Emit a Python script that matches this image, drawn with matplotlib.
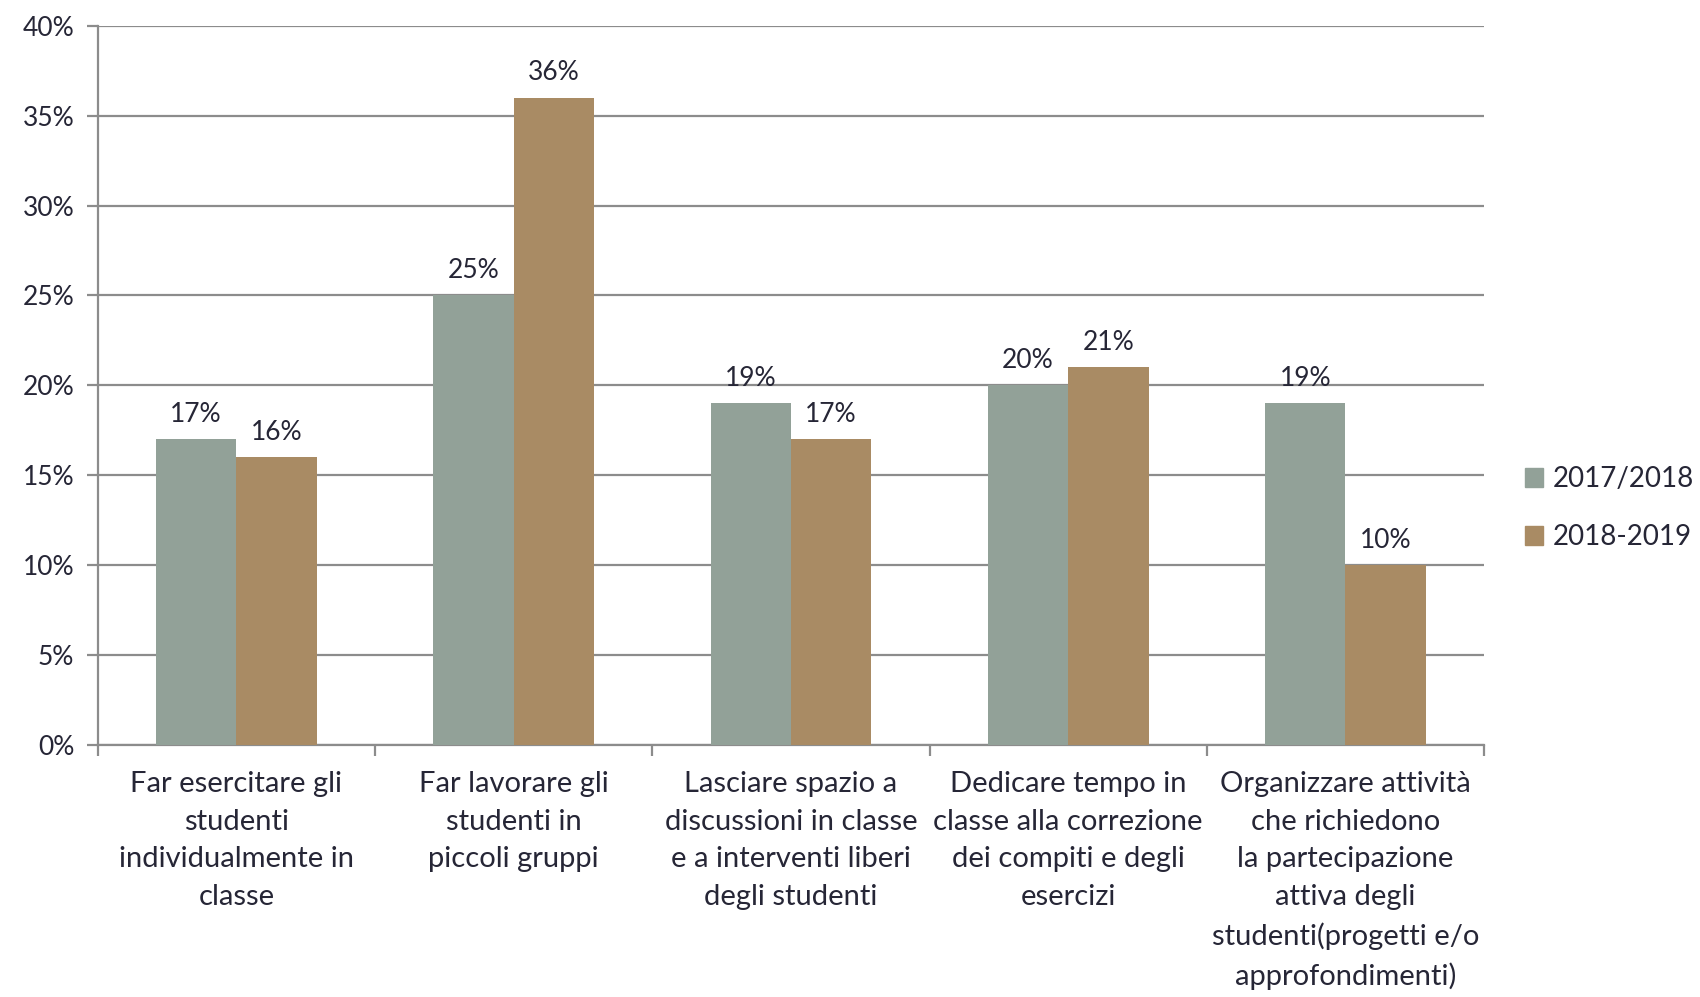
import numpy as np
import matplotlib.pyplot as plt
from matplotlib.patches import Patch

categories = [
    "Far esercitare gli\nstudenti\nindividualmente in\nclasse",
    "Far lavorare gli\nstudenti in\npiccoli gruppi",
    "Lasciare spazio a\ndiscussioni in classe\ne a interventi liberi\ndegli studenti",
    "Dedicare tempo in\nclasse alla correzione\ndei compiti e degli\nesercizi",
    "Organizzare attività\nche richiedono\nla partecipazione\nattiva degli\nstudenti(progetti e/o\napprofondimenti)",
]
series_names = ["2017/2018", "2018-2019"]
values_2017 = [17, 25, 19, 20, 19]
values_2018 = [16, 36, 17, 21, 10]
yticks = [0, 5, 10, 15, 20, 25, 30, 35, 40]

plt.rcParams['font.family'] = ['Lato', 'DejaVu Sans']
text_color = '#262636'
grid_color = '#8c8c8c'
colors = ['#92a198', '#a98b64']

fig = plt.figure(figsize=(17, 9.97), dpi=100)
ax = fig.add_axes([0.0575, 0.253, 0.8155, 0.721])

x = np.arange(len(categories))
w = 0.29
b1 = ax.bar(x - w / 2, values_2017, w, color=colors[0], zorder=3)
b2 = ax.bar(x + w / 2, values_2018, w, color=colors[1], zorder=3)

# etichette dei valori sopra le barre
for bars, vals in ((b1, values_2017), (b2, values_2018)):
    for rect, v in zip(bars, vals):
        ax.annotate(f"{v}%", (rect.get_x() + rect.get_width() / 2, v),
                    xytext=(0, 9), textcoords='offset points',
                    ha='center', va='bottom', fontsize=19, color=text_color)

ax.set_xlim(-0.5, len(categories) - 0.5)
ax.set_ylim(0, 40)
ax.set_yticks(yticks)
ax.set_yticklabels([f"{t}%" for t in yticks])
ax.yaxis.grid(True, color=grid_color, linewidth=1.6, zorder=0)
ax.set_axisbelow(True)

ax.set_xticks(x)
ax.set_xticklabels(categories, fontsize=21, color=text_color, linespacing=1.55)
ax.tick_params(axis='x', length=0, pad=19)
ax.set_xticks(np.arange(len(categories) + 1) - 0.5, minor=True)
ax.tick_params(axis='x', which='minor', length=8, width=1.6, color=grid_color)
ax.tick_params(axis='y', length=8, width=1.6, color=grid_color,
               labelsize=19, labelcolor=text_color, pad=9)

for s in ('top', 'right'):
    ax.spines[s].set_visible(False)
for s in ('left', 'bottom'):
    ax.spines[s].set_color(grid_color)
    ax.spines[s].set_linewidth(1.6)

handles = [Patch(color=c, label=n) for c, n in zip(colors, series_names)]
fig.legend(handles=handles, loc='center left', bbox_to_anchor=(0.897, 0.49),
           frameon=False, fontsize=20, handlelength=0.65, handleheight=0.65,
           handletextpad=0.35, labelspacing=1.15, labelcolor=text_color,
           borderpad=0, borderaxespad=0)

fig.savefig('out.png', dpi=100)
